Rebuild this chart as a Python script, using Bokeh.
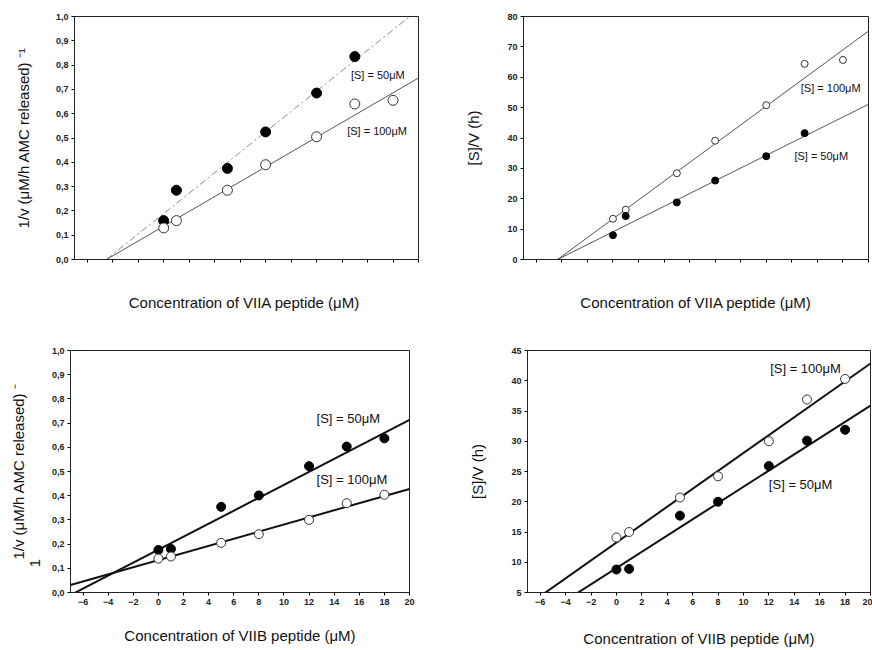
import numpy as np
from bokeh.plotting import figure
from bokeh.layouts import column, row
from bokeh.models import FixedTicker
from bokeh.embed import file_html
from bokeh.resources import INLINE
from bokeh.core.properties import value

# ---------------- data ----------------
conc = [0, 1, 5, 8, 12, 15, 18]
conc6 = [0, 1, 5, 8, 12, 15]

# VIIA, Lineweaver-Burk style (1/v vs [I])
a_lb_50 = [0.16, 0.285, 0.375, 0.525, 0.685, 0.835]
a_lb_100 = [0.13, 0.16, 0.285, 0.39, 0.505, 0.64, 0.655]
a_lb_fit_50 = (0.042, 0.189)     # slope, intercept
a_lb_fit_100 = (0.0305, 0.137)

# VIIA, [S]/v vs [I]
a_hw_100 = [13.4, 16.4, 28.4, 39.1, 50.8, 64.4, 65.7]
a_hw_50 = [8.0, 14.3, 18.8, 26.0, 34.0, 41.6]
a_hw_fit_100 = (3.09, 13.4)
a_hw_fit_50 = (2.1, 9.1)

# VIIB, 1/v vs [I]
b_lb_50 = [0.176, 0.18, 0.354, 0.401, 0.522, 0.603, 0.637]
b_lb_100 = [0.14, 0.149, 0.205, 0.241, 0.30, 0.369, 0.404]
b_lb_fit_50 = (0.0268, 0.177)
b_lb_fit_100 = (0.0147, 0.134)

# VIIB, [S]/v vs [I]
b_hw_100 = [14.1, 15.0, 20.7, 24.2, 30.0, 36.9, 40.3]
b_hw_50 = [8.8, 8.9, 17.7, 20.0, 25.9, 30.1, 31.9]
b_hw_fit_100 = (1.48, 13.26)
b_hw_fit_50 = (1.343, 9.04)

x_ticks = list(range(-6, 21, 2))
lb_ticks = [0.0, 0.1, 0.2, 0.3, 0.4, 0.5, 0.6, 0.7, 0.8, 0.9, 1.0]
lb_tick_labels = ["0,0", "0,1", "0,2", "0,3", "0,4", "0,5", "0,6", "0,7", "0,8", "0,9", "1,0"]
a_hw_ticks = [0, 10, 20, 30, 40, 50, 60, 70, 80]
b_hw_ticks = [5, 10, 15, 20, 25, 30, 35, 40, 45]

x_title_a = "Concentration of VIIA  peptide (\u03bcM)"
x_title_a2 = "Concentration of VIIA peptide (\u03bcM)"
x_title_b = "Concentration of VIIB peptide (\u03bcM)"
lb_title = "1/v (\u03bcM/h AMC released) \u207b\u00b9"
lb_title_b = "1/v (\u03bcM/h AMC released) \u207b\n1" + "\u00a0" * 44
hw_title = "[S]/V (h)"

FONT = "Liberation Sans"


def make_fig(w, h, left, right, top, bottom, yr):
    p = figure(width=w, height=h, x_range=(-7, 20), y_range=yr,
               output_backend="svg", toolbar_location=None,
               min_border_left=left, min_border_right=right,
               min_border_top=top, min_border_bottom=bottom)
    p.grid.visible = False
    p.outline_line_color = "#222222"
    p.outline_line_width = 1
    p.background_fill_color = "white"
    p.border_fill_color = "white"
    for ax in (p.xaxis[0], p.yaxis[0]):
        ax.axis_line_color = "#222222"
        ax.major_tick_in = 0
        ax.major_tick_out = 3
        ax.minor_tick_line_color = None
        ax.major_label_standoff = 3
        ax.major_label_text_font = FONT
        ax.major_label_text_font_style = "bold"
        ax.major_label_text_font_size = "9px"
        ax.major_label_text_color = "#222222"
        ax.axis_label_text_font = FONT
        ax.axis_label_text_font_style = "normal"
        ax.axis_label_text_font_size = "15px"
        ax.axis_label_text_color = "#111111"
    p.xaxis.ticker = FixedTicker(ticks=x_ticks)
    return p


def fit_line(p, fit, x0, x1, **kw):
    xs = np.array([x0, x1], dtype=float)
    ys = fit[0] * xs + fit[1]
    p.line(xs, ys, **kw)


def labels(p, items, size):
    for txt, x, y in items:
        p.text(x=[x], y=[y], text=[txt], text_font=value(FONT), text_font_size=size,
               text_align="left", text_baseline="middle", text_color="#111111")


# ---------- panel 1: VIIA 1/v ----------
p1 = make_fig(440, 320, 74, 22, 16, 61, (0, 1.0))
p1.yaxis.ticker = FixedTicker(ticks=lb_ticks)
p1.yaxis.major_label_overrides = {t: l for t, l in zip(lb_ticks, lb_tick_labels)}
p1.xaxis.major_label_overrides = {t: "" for t in x_ticks}
p1.xaxis.axis_label = x_title_a
p1.xaxis.axis_label_standoff = 31
p1.yaxis.axis_label = lb_title
p1.yaxis.axis_label_standoff = 21
fit_line(p1, a_lb_fit_50, -4.5, 20, line_color="#8a8a8a", line_width=1, line_dash="7 3 2 3")
fit_line(p1, a_lb_fit_100, -4.5, 20, line_color="#555555", line_width=1)
p1.scatter(conc6, a_lb_50, size=10, marker="circle", fill_color="black", line_color="black")
p1.scatter(conc, a_lb_100, size=10, marker="circle", fill_color="white", line_color="#333333", line_width=1)
labels(p1, [("[S] = 50\u03bcM", 14.7, 0.761), ("[S] = 100\u03bcM", 14.4, 0.527)], "11px")

# ---------- panel 2: VIIA [S]/v ----------
p2 = make_fig(432, 320, 83, 4, 14, 59, (0, 80))
p2.yaxis.ticker = FixedTicker(ticks=a_hw_ticks)
p2.xaxis.major_label_overrides = {t: "" for t in x_ticks}
p2.xaxis.axis_label = x_title_a2
p2.xaxis.axis_label_standoff = 31
p2.yaxis.axis_label = hw_title
p2.yaxis.axis_label_standoff = 22
fit_line(p2, a_hw_fit_100, -4.33, 20, line_color="#555555", line_width=1)
fit_line(p2, a_hw_fit_50, -4.33, 20, line_color="#555555", line_width=1)
p2.scatter(conc, a_hw_100, size=7, marker="circle", fill_color="white", line_color="#333333", line_width=1)
p2.scatter(conc6, a_hw_50, size=7, marker="circle", fill_color="black", line_color="black")
labels(p2, [("[S] = 100\u03bcM", 14.7, 56.3), ("[S] = 50\u03bcM", 14.2, 34.1)], "11px")

# ---------- panel 3: VIIB 1/v ----------
p3 = make_fig(440, 330, 70, 31, 30, 54, (0, 1.0))
p3.yaxis.ticker = FixedTicker(ticks=lb_ticks)
p3.yaxis.major_label_overrides = {t: l for t, l in zip(lb_ticks, lb_tick_labels)}
p3.xaxis.axis_label = x_title_b
p3.xaxis.axis_label_standoff = 19
p3.yaxis.axis_label = lb_title_b
p3.yaxis.axis_label_standoff = 6
p3.yaxis.axis_label_text_line_height = 0.95
fit_line(p3, b_lb_fit_50, -7, 20, line_color="#111111", line_width=2)
fit_line(p3, b_lb_fit_100, -7, 20, line_color="#111111", line_width=2)
p3.scatter(conc, b_lb_50, size=9, marker="circle", fill_color="black", line_color="black")
p3.scatter(conc, b_lb_100, size=9, marker="circle", fill_color="white", line_color="#333333", line_width=1)
labels(p3, [("[S] = 50\u03bcM", 12.6, 0.718), ("[S] = 100\u03bcM", 12.6, 0.465)], "13px")

# ---------- panel 4: VIIB [S]/v ----------
p4 = make_fig(432, 330, 87, 2, 27, 58, (5, 45))
p4.yaxis.ticker = FixedTicker(ticks=b_hw_ticks)
p4.xaxis.axis_label = x_title_b
p4.xaxis.axis_label_standoff = 22
p4.yaxis.axis_label = hw_title
p4.yaxis.axis_label_standoff = 22
fit_line(p4, b_hw_fit_100, -7, 20, line_color="#111111", line_width=2)
fit_line(p4, b_hw_fit_50, -7, 20, line_color="#111111", line_width=2)
p4.scatter(conc, b_hw_100, size=9, marker="circle", fill_color="white", line_color="#333333", line_width=1)
p4.scatter(conc, b_hw_50, size=9, marker="circle", fill_color="black", line_color="black")
labels(p4, [("[S] = 100\u03bcM", 12.1, 42.0), ("[S] = 50\u03bcM", 12.0, 22.8)], "13px")

layout = column(row(p1, p2), row(p3, p4))
open("out.html", "w").write(file_html(layout, INLINE))
